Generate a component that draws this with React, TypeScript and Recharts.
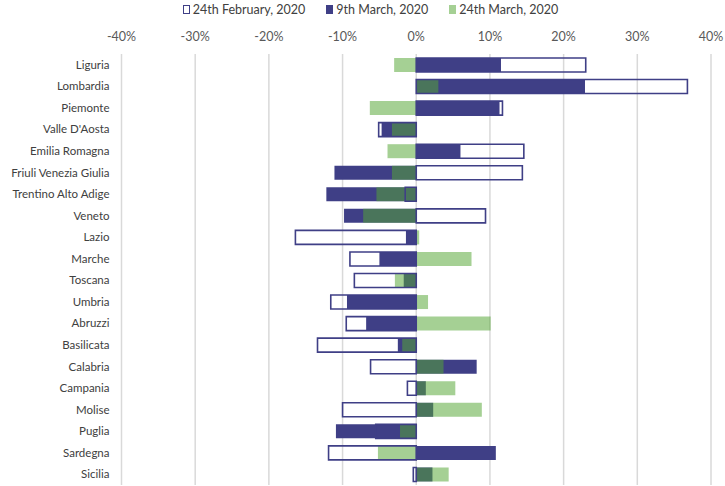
import React from 'react';
import { BarChart, Bar, XAxis, YAxis, CartesianGrid } from 'recharts';

const regions = [
  'Liguria', 'Lombardia', 'Piemonte', "Valle D'Aosta", 'Emilia Romagna', 'Friuli Venezia Giulia',
  'Trentino Alto Adige', 'Veneto', 'Lazio', 'Marche', 'Toscana', 'Umbria', 'Abruzzi', 'Basilicata',
  'Calabria', 'Campania', 'Molise', 'Puglia', 'Sardegna', 'Sicilia',
];
const feb24 = [23.0, 36.8, 11.7, -5.1, 14.6, 14.4, -1.5, 9.4, -16.4, -9.0, -8.4, -11.6, -9.5, -13.4, -6.2, -1.2, -10.0, -5.5, -11.9, -0.4];
const mar9 = [11.5, 22.9, 11.3, -4.7, 6.0, -11.1, -12.2, -9.8, -1.4, -5.0, -1.7, -9.4, -6.8, -2.5, 8.2, 1.3, 2.3, -10.9, 10.8, 2.2];
const mar24 = [-3.0, 3.0, -6.3, -3.3, -3.9, -3.3, -5.4, -7.2, 0.4, 7.5, -2.9, 1.6, 10.1, -1.9, 3.7, 5.3, 8.9, -2.2, -5.2, 4.4];
const xTicks = [-40, -30, -20, -10, 0, 10, 20, 30, 40];
const seriesNames = ['24th February, 2020', '9th March, 2020', '24th March, 2020'];

const data = regions.map((r, i) => ({ region: r, feb24: feb24[i], mar9: mar9[i], mar24: mar24[i] }));

const NAVY = '#3f3f86';
const GREEN = '#55a635';
const FONT = 'Lato, "Open Sans", sans-serif';

const RegionTick = (props: any) => {
  const { x, y, payload } = props;
  return (
    <text x={x} y={y} dy="0.35em" textAnchor="end" fill="#404040" fontSize={11.5} fontFamily={FONT}>
      {payload.value}
    </text>
  );
};

export default function App() {
  return (
    <div style={{ position: 'absolute', left: 0, top: 0, width: 725, height: 486, background: '#fff', fontFamily: FONT }}>
      <div style={{ position: 'absolute', top: 2, left: 8, width: 725, display: 'flex', justifyContent: 'center', gap: 21, fontSize: 12.5, color: '#404040' }}>
        <span style={{ display: 'flex', alignItems: 'center' }}>
          <span style={{ display: 'inline-block', width: 5, height: 7, border: `1.5px solid ${NAVY}`, marginRight: 3 }} />
          {seriesNames[0]}
        </span>
        <span style={{ display: 'flex', alignItems: 'center' }}>
          <span style={{ display: 'inline-block', width: 7, height: 9, background: NAVY, marginRight: 3 }} />
          {seriesNames[1]}
        </span>
        <span style={{ display: 'flex', alignItems: 'center' }}>
          <span style={{ display: 'inline-block', width: 7, height: 9, background: GREEN, opacity: 0.53, marginRight: 3 }} />
          {seriesNames[2]}
        </span>
      </div>
      <BarChart
        width={725}
        height={486}
        data={data}
        layout="vertical"
        margin={{ top: 24, right: 14, bottom: 1, left: 0 }}
        barGap={-14}
        barCategoryGap={0}
      >
        <CartesianGrid horizontal={false} vertical={true} stroke="#d9d9d9" strokeWidth={1.5} />
        <XAxis
          type="number"
          orientation="top"
          domain={[-40, 40]}
          ticks={xTicks}
          height={30}
          axisLine={false}
          tickLine={false}
          tickMargin={7}
          tickFormatter={(v: number) => `${v}%`}
          tick={{ fill: '#595959', fontSize: 12.5, fontFamily: FONT }}
        />
        <YAxis
          type="category"
          dataKey="region"
          width={121.5}
          axisLine={false}
          tickLine={false}
          tickMargin={6}
          interval={0}
          tick={<RegionTick />}
        />
        <Bar dataKey="mar9" name={seriesNames[1]} fill={NAVY} barSize={14} isAnimationActive={false} />
        <Bar dataKey="mar24" name={seriesNames[2]} fill={GREEN} fillOpacity={0.53} barSize={14} isAnimationActive={false} />
        <Bar dataKey="feb24" name={seriesNames[0]} fill="none" stroke={NAVY} strokeWidth={1.6} barSize={14} isAnimationActive={false} />
      </BarChart>
    </div>
  );
}
